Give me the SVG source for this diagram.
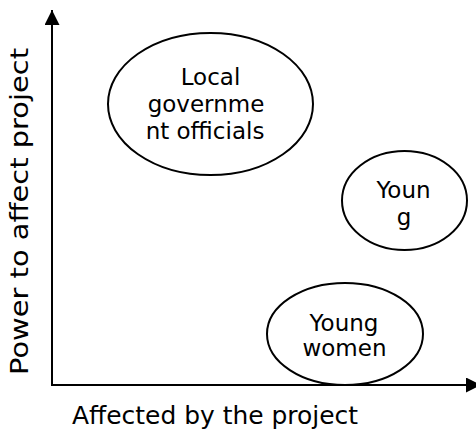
<svg xmlns="http://www.w3.org/2000/svg" width="476" height="430" viewBox="0 0 476 430">
  <style>
    .axis { stroke: #000; stroke-width: 2; fill: none; }
    .node ellipse { fill: #fff; stroke: #000; stroke-width: 2; }
    text { font-family: "DejaVu Sans", Verdana, sans-serif; fill: #000; }
    .lbl { font-size: 23px; text-anchor: middle; }
    .ax { font-size: 25px; }
  </style>
  <defs>
    <marker id="arrow" viewBox="0 0 10 10" refX="10" refY="5" markerWidth="15" markerHeight="15" markerUnits="userSpaceOnUse" orient="auto">
      <path d="M0,0 L10,5 L0,10 z" fill="#000"/>
    </marker>
  </defs>
  <rect width="476" height="430" fill="#fff"/>
  <g id="connectors">
    <line class="axis" x1="52" y1="385" x2="52" y2="10" marker-end="url(#arrow)"/>
    <line class="axis" x1="51" y1="385" x2="481" y2="385" marker-end="url(#arrow)"/>
  </g>
  <g id="local-government" class="node">
    <ellipse cx="210.5" cy="104" rx="102.5" ry="71"/>
    <text class="lbl" x="210.5" y="85">Local</text>
    <text class="lbl" x="206" y="112">governme</text>
    <text class="lbl" x="205" y="138.5">nt officials</text>
  </g>
  <g id="young" class="node">
    <ellipse cx="404.5" cy="200.5" rx="62.5" ry="49.5"/>
    <text class="lbl" x="403.5" y="197.5">Youn</text>
    <text class="lbl" x="404" y="224.5">g</text>
  </g>
  <g id="young-women" class="node">
    <ellipse cx="345" cy="334" rx="78" ry="51"/>
    <text class="lbl" x="344" y="330.5">Young</text>
    <text class="lbl" x="344.5" y="356">women</text>
  </g>
  <text class="ax" x="72" y="424" textLength="286" lengthAdjust="spacingAndGlyphs">Affected by the project</text>
  <text class="ax" transform="translate(28 211.5) rotate(-90)" x="-163.5" y="0" textLength="327" lengthAdjust="spacingAndGlyphs">Power to affect project</text>
</svg>
